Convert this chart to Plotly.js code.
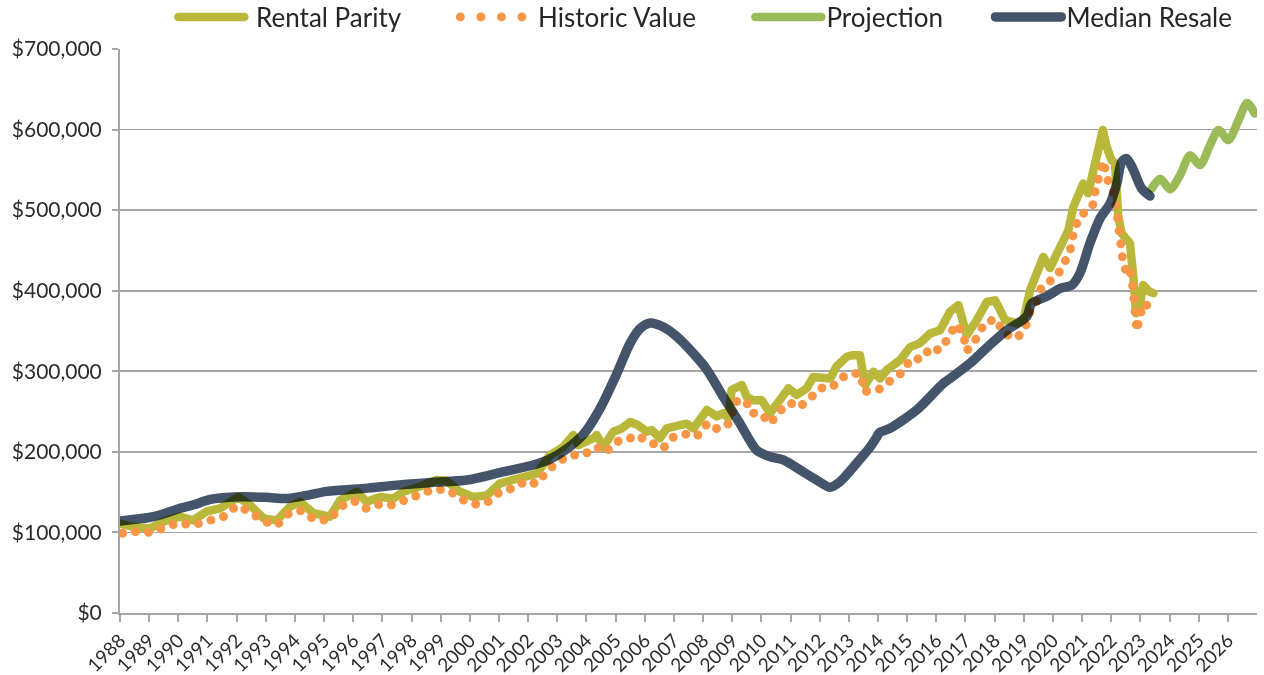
<!DOCTYPE html>
<html><head><meta charset="utf-8">
<script src="https://cdn.plot.ly/plotly-3.0.1.min.js"></script>
<style>
html,body{margin:0;padding:0;background:#fff;}
#chart{width:1264px;height:675px;}
.scatterlayer path.js-line{stroke-linecap:round;stroke-linejoin:round;}
.legendlines path{stroke-linecap:round;}
.legend2 .legendlines path{stroke-dasharray:0px,20.5px !important;}
.tracerental,.tracemedian,.traceprojection{mix-blend-mode:multiply;}
</style></head><body><div id="chart"></div>
<script>
const seriesNames = ['Rental Parity', 'Historic Value', 'Projection', 'Median Resale'];
const yearTicks = [1988,1989,1990,1991,1992,1993,1994,1995,1996,1997,1998,1999,2000,2001,2002,2003,2004,2005,2006,2007,2008,2009,2010,2011,2012,2013,2014,2015,2016,2017,2018,2019,2020,2021,2022,2023,2024,2025,2026];
const yearLabels = yearTicks.map(String);

const rentalYears = [1988.0,1988.45,1989.03,1989.6,1990.06,1990.51,1990.97,1991.43,1992.06,1992.46,1992.92,1993.38,1993.83,1994.17,1994.63,1995.2,1995.55,1996.12,1996.46,1996.92,1997.38,1997.72,1998.29,1998.86,1999.2,1999.66,2000.12,2000.58,2001.04,2001.5,2001.95,2002.3,2002.75,2003.2,2003.55,2003.72,2004.24,2004.35,2004.58,2004.92,2005.21,2005.5,2005.78,2006.07,2006.24,2006.52,2006.75,2007.1,2007.44,2007.67,2008.13,2008.47,2008.7,2008.87,2008.98,2009.33,2009.5,2009.72,2010.01,2010.3,2010.64,2010.93,2011.21,2011.56,2011.78,2012.07,2012.36,2012.58,2012.93,2013.1,2013.38,2013.56,2013.84,2014.07,2014.3,2014.76,2015.1,2015.44,2015.79,2016.13,2016.47,2016.76,2017.04,2017.39,2017.73,2018.02,2018.36,2018.76,2018.99,2019.22,2019.45,2019.67,2019.9,2020.13,2020.36,2020.53,2020.7,2020.87,2021.04,2021.21,2021.38,2021.56,2021.71,2021.84,2022.01,2022.13,2022.24,2022.36,2022.53,2022.64,2022.76,2022.85,2022.99,2023.1,2023.3,2023.45];
const rentalValues = [111000,107000,105000,115000,119500,115000,126000,130000,144000,134000,117500,115000,132000,138000,124000,119500,140000,150500,138000,144000,142000,150500,157000,165000,164000,150500,144000,146000,161000,165000,171000,173000,196000,206000,221000,208500,217000,221000,206000,225000,229000,237000,233000,225000,227000,217000,229000,233000,235000,229000,252000,244000,248000,242000,277000,283000,268000,264000,264000,248000,264000,279000,270500,279000,293000,293000,291000,306000,318000,320000,320000,283000,299500,291000,301600,314000,330000,335000,347000,351000,374000,382000,345000,363600,386000,388000,363600,359500,363600,401000,423600,442000,428000,446000,463000,475000,504000,521000,533000,521000,546000,579000,599500,579000,562000,558000,492000,471000,465000,459000,417000,372000,384000,407000,399000,397000];

const historicYears = [1988.09,1988.55,1989.06,1989.54,1990.0,1990.49,1991.01,1991.54,1992.0,1992.45,1992.88,1993.38,1993.8,1994.22,1994.67,1995.18,1995.55,1996.03,1996.44,1996.9,1997.33,1997.74,1998.26,1998.78,1999.29,1999.72,2000.18,2000.58,2001.04,2001.49,2001.93,2002.29,2002.67,2003.07,2003.5,2003.88,2004.35,2004.64,2005.04,2005.36,2005.7,2006.12,2006.62,2006.96,2007.41,2007.78,2008.13,2008.26,2008.53,2008.81,2008.98,2009.06,2009.47,2009.64,2009.98,2010.3,2010.64,2010.98,2011.28,2011.69,2011.99,2012.42,2012.76,2013.13,2013.42,2013.51,2013.8,2014.07,2014.44,2014.84,2015.13,2015.5,2015.81,2016.09,2016.39,2016.67,2016.93,2017.04,2017.39,2017.67,2018.07,2018.3,2018.76,2019.04,2019.22,2019.45,2019.62,2019.85,2020.11,2020.34,2020.59,2020.7,2020.91,2021.18,2021.36,2021.47,2021.6,2021.73,2021.87,2022.08,2022.19,2022.25,2022.3,2022.4,2022.51,2022.61,2022.71,2022.75,2022.79,2022.88,2022.97,2023.14,2023.3];
const historicValues = [99000,101000,100000,106000,112000,109000,115000,119500,133000,126000,114500,109000,124000,127000,116000,115000,132000,139000,130000,135000,134000,140000,147000,154000,152000,141000,135000,137000,150500,155000,164000,160000,177000,189000,196000,196000,206000,199000,213000,214000,221000,214000,204000,218000,222000,219000,234600,229000,229000,232000,242000,262000,264000,248000,248000,235000,251000,261000,255000,267000,279000,280000,292500,297500,296600,274600,276000,278000,289000,298700,316000,315000,330000,326000,340000,358700,346000,325000,341600,361000,364500,347000,341000,353000,374000,387600,406000,410000,416600,430700,449700,471000,492700,499000,505000,527000,548600,561000,538600,521000,499000,478000,455500,437000,424000,429000,416000,394700,372700,350000,368600,385000,379000];

const projectionYears = [2023.39,2023.68,2024.02,2024.37,2024.7,2025.05,2025.39,2025.68,2026.02,2026.37,2026.66,2026.92];
const projectionValues = [527000,539000,526000,544000,568000,556000,581000,599500,587000,612000,633000,620000];

const medianYears = [1988.0,1988.45,1989.0,1989.37,1990.06,1990.5,1991.1,1991.9,1993.0,1993.7,1994.4,1995.1,1996.5,1997.6,1998.7,1999.9,2001.0,2002.2,2002.75,2003.3,2003.9,2004.47,2005.04,2005.5,2005.84,2006.18,2006.64,2007.1,2007.67,2008.13,2008.7,2009.27,2009.84,2010.3,2010.75,2011.44,2011.9,2012.36,2012.7,2013.27,2013.73,2013.95,2014.05,2014.4,2015.33,2016.24,2016.47,2017.16,2017.84,2018.42,2019.1,2019.27,2019.79,2020.25,2020.65,2020.93,2021.27,2021.62,2021.96,2022.19,2022.36,2022.53,2022.76,2023.04,2023.33];
const medianValues = [114000,116000,118500,121600,130000,134000,141000,144000,143600,142000,146000,151000,155000,159000,162000,165000,174000,184000,191000,203000,222000,254000,297000,335000,353000,360000,355000,343000,322000,302000,268000,235000,202000,194000,190000,175000,165000,156000,163000,186000,206000,218000,224000,229000,252000,285000,291000,310000,333000,351000,368000,384000,393000,403000,407000,422000,459000,490000,508000,533000,560000,564000,550000,527000,517500];

const axisGray = '#A6A6A6';
const textColor = '#2b2b2b';
const fontFamily = 'Lato, "Liberation Sans", sans-serif';
const nb = '\u00a0';

const traces = [
  {type:'scatter', mode:'lines', name:nb + seriesNames[0], uid:'rental', legend:'legend', x:rentalYears, y:rentalValues,
   line:{color:'#BAB83A', width:8.5}},
  {type:'scatter', mode:'lines', name:nb + seriesNames[1], uid:'historic', legend:'legend2', x:historicYears, y:historicValues,
   line:{color:'#F79646', width:9, dash:'0px,13px'}},
  {type:'scatter', mode:'lines', name:seriesNames[2], uid:'projection', legend:'legend3', x:projectionYears, y:projectionValues,
   line:{color:'#9BBB59', width:8.5, shape:'spline', smoothing:0.8}},
  {type:'scatter', mode:'lines', name:seriesNames[3], uid:'median', legend:'legend4', x:medianYears, y:medianValues,
   line:{color:'#44546A', width:9.5, shape:'spline', smoothing:0.8}}
];

function legendAt(px) {
  return {orientation:'h', x:(px - 120) / 1137, xanchor:'left', y:1.0567, yanchor:'middle',
          font:{size:26, color:'#262626', family:fontFamily}, itemwidth:66, bgcolor:'rgba(0,0,0,0)'};
}

const layout = {
  width:1264, height:675,
  margin:{l:120, r:7, t:49, b:62, autoexpand:false},
  paper_bgcolor:'#ffffff', plot_bgcolor:'#ffffff',
  font:{family:fontFamily, color:textColor},
  showlegend:true,
  legend:legendAt(173.4),
  legend2:legendAt(455.4),
  legend3:legendAt(750.4),
  legend4:legendAt(990.4),
  xaxis:{range:[1988,2027], tickmode:'array', tickvals:yearTicks, ticktext:yearLabels, tickangle:-45,
         ticks:'outside', ticklen:7, tickwidth:2, tickcolor:axisGray, showline:true, linecolor:axisGray, linewidth:2,
         showgrid:false, zeroline:false, tickfont:{size:19, color:textColor}, automargin:false, fixedrange:true},
  yaxis:{range:[0,700000], dtick:100000, tick0:0, tickprefix:'$', tickformat:',d',
         ticks:'outside', ticklen:6, tickwidth:2, tickcolor:axisGray, showline:true, linecolor:axisGray, linewidth:2,
         showgrid:true, gridcolor:axisGray, gridwidth:1.6, zeroline:false, ticklabelstandoff:6,
         tickfont:{size:21, color:textColor}, automargin:false, fixedrange:true}
};

Plotly.newPlot('chart', traces, layout, {displayModeBar:false, staticPlot:true});
</script>
</body></html>
